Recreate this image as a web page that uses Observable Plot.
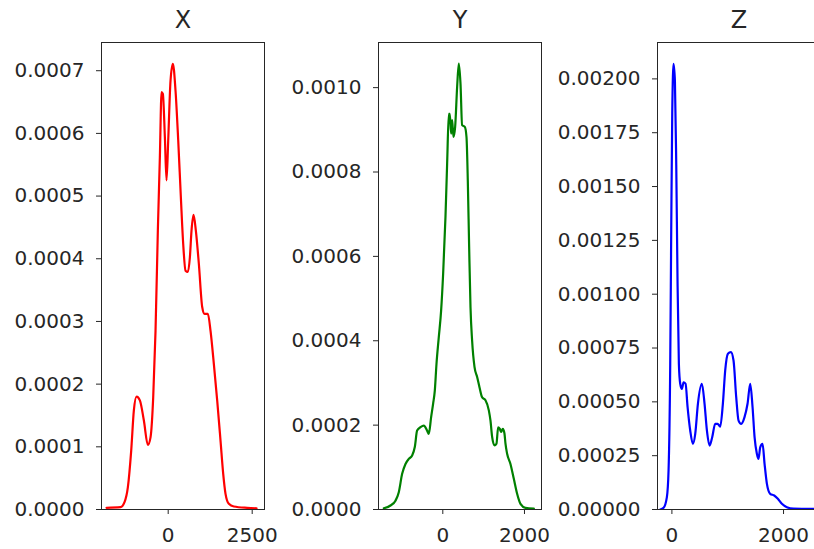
<!DOCTYPE html>
<html>
<head>
<meta charset="utf-8">
<script src="https://cdn.jsdelivr.net/npm/d3@7"></script>
<script src="https://cdn.jsdelivr.net/npm/@observablehq/plot@0.6"></script>
<style>
  html, body { margin: 0; padding: 0; background: #fff; }
  #chart { position: relative; width: 814px; height: 549px; overflow: hidden; background: #fff; }
  #chart > div, #chart > svg { position: absolute; top: 0; }
</style>
</head>
<body>
<div id="chart"></div>
<script>
// Panel titles
const titles = ["X", "Y", "Z"];
const colors = ["#ff0000", "#008000", "#0000ff"];

// KDE curve for X (value, density)
const xValues = [-1835, -1419, -1300, -1200, -1101, -1022, -942, -843, -724, -605, -526, -446, -377, -308, -248, -198, -159, -99, -50, 0, 69, 139, 218, 298, 377, 446, 516, 585, 645, 694, 754, 823, 912, 1012, 1081, 1180, 1260, 1359, 1458, 1557, 1637, 1706, 1805, 1954, 2351, 2629];
const xDensity = [0.0000027, 0.0000037, 0.0000117, 0.0000356, 0.000094, 0.000158, 0.00018, 0.000174, 0.000142, 0.000103, 0.000115, 0.000179, 0.000285, 0.000445, 0.000562, 0.000666, 0.000663, 0.000594, 0.000525, 0.000588, 0.000684, 0.000711, 0.000668, 0.000589, 0.000498, 0.000424, 0.000381, 0.000379, 0.000402, 0.000445, 0.00047, 0.000445, 0.000392, 0.000323, 0.000312, 0.000312, 0.000285, 0.000232, 0.000174, 0.00011, 0.0000569, 0.000025, 0.000009, 0.0000048, 0.0000027, 0.000002];

// KDE curve for Y
const yValues = [-1445, -1282, -1159, -1078, -996, -914, -833, -751, -686, -629, -547, -465, -384, -343, -286, -237, -196, -155, -98, -41, 8, 65, 106, 147, 171, 204, 229, 261, 302, 351, 392, 433, 473, 539, 580, 612, 645, 678, 718, 776, 841, 898, 963, 1045, 1127, 1167, 1208, 1265, 1314, 1355, 1396, 1429, 1470, 1510, 1535, 1575, 1657, 1739, 1820, 1902, 2024, 2229];
const yDensity = [0.000003, 0.0000095, 0.000021, 0.000041, 0.0000846, 0.000108, 0.00012, 0.000128, 0.000148, 0.000187, 0.000195, 0.000199, 0.000187, 0.000179, 0.000219, 0.000251, 0.000282, 0.000345, 0.000409, 0.000472, 0.000559, 0.000693, 0.00082, 0.000938, 0.000938, 0.000891, 0.000923, 0.000883, 0.000907, 0.001002, 0.001057, 0.00101, 0.000911, 0.000907, 0.000883, 0.00078, 0.000622, 0.00048, 0.0004, 0.000338, 0.000314, 0.00029, 0.000266, 0.000259, 0.000235, 0.000211, 0.000172, 0.000152, 0.000156, 0.000195, 0.000191, 0.000184, 0.000191, 0.000180, 0.000156, 0.000132, 0.000108, 0.0000727, 0.0000372, 0.0000134, 0.000004, 0.000002];

// KDE curve for Z
const zValues = [-209, -149, -90, -60, -30, -12, 6, 30, 54, 78, 101, 125, 149, 179, 209, 245, 281, 328, 376, 418, 466, 537, 585, 627, 675, 722, 776, 818, 866, 913, 955, 1003, 1057, 1104, 1152, 1194, 1242, 1301, 1355, 1403, 1445, 1481, 1522, 1552, 1582, 1624, 1660, 1702, 1761, 1833, 1898, 1970, 2060, 2179, 2537];
const zDensity = [0, 0.0000077, 0.0000573, 0.000181, 0.000676, 0.0013, 0.00184, 0.00207, 0.00199, 0.0016, 0.00106, 0.000676, 0.000584, 0.00056, 0.000591, 0.000584, 0.000475, 0.000367, 0.000305, 0.000351, 0.000491, 0.000584, 0.000491, 0.000367, 0.000297, 0.000336, 0.000398, 0.000398, 0.000385, 0.000491, 0.000646, 0.000723, 0.000731, 0.000692, 0.000522, 0.000413, 0.000398, 0.000429, 0.000491, 0.000584, 0.000475, 0.000336, 0.000259, 0.000235, 0.000289, 0.000305, 0.000212, 0.000119, 0.0000727, 0.000065, 0.0000495, 0.0000263, 0.0000108, 0.0000046, 0.000003];

// Tick values
const xTicksX = [0, 2500];
const xTicksY = [0, 2000];
const xTicksZ = [0, 2000];
const yTicksX = [0, 0.0001, 0.0002, 0.0003, 0.0004, 0.0005, 0.0006, 0.0007];
const yTicksY = [0, 0.0002, 0.0004, 0.0006, 0.0008, 0.0010];
const yTicksZ = [0, 0.00025, 0.0005, 0.00075, 0.001, 0.00125, 0.0015, 0.00175, 0.002];

const panels = [
  {title: titles[0], color: colors[0], xs: xValues, ys: xDensity, left: 0, marginLeft: 101, frameW: 163,
   xDomain: [-1985, 2866], yDomain: [0, 0.000745], xTicks: xTicksX, yTicks: yTicksX, fmt: ".4f"},
  {title: titles[1], color: colors[1], xs: yValues, ys: yDensity, left: 278, marginLeft: 100, frameW: 163,
   xDomain: [-1575, 2417], yDomain: [0, 0.001107], xTicks: xTicksY, yTicks: yTicksY, fmt: ".4f"},
  {title: titles[2], color: colors[2], xs: zValues, ys: zDensity, left: 555, marginLeft: 102, frameW: 163,
   xDomain: [-258, 2662], yDomain: [0, 0.002169], xTicks: xTicksZ, yTicks: yTicksZ, fmt: ".5f"}
];

const chart = document.getElementById("chart");
const ink = "#262626";

for (const p of panels) {
  const data = p.xs.map((v, i) => ({v, d: p.ys[i]}));
  const marginRight = 10;
  const svg = Plot.plot({
    width: p.marginLeft + p.frameW + marginRight,
    height: 549,
    marginLeft: p.marginLeft,
    marginRight,
    marginTop: 42,
    marginBottom: 40,
    style: {fontFamily: "DejaVu Sans", fontSize: "20px", color: ink, background: "transparent", overflow: "visible"},
    x: {domain: p.xDomain, ticks: p.xTicks, tickFormat: d3.format("d"), tickSize: 5, tickPadding: 13, label: null},
    y: {domain: p.yDomain, ticks: p.yTicks, tickFormat: d3.format(p.fmt), tickSize: 5, tickPadding: 12, label: null},
    marks: [
      Plot.line(data, {x: "v", y: "d", stroke: p.color, strokeWidth: 2.2, curve: "monotone-x", clip: true}),
      Plot.frame({stroke: ink, strokeWidth: 1}),
      Plot.text([p.title], {frameAnchor: "top", lineAnchor: "bottom", dy: -15, fontSize: 24, fill: ink})
    ]
  });
  svg.style.left = p.left + "px";
  svg.style.position = "absolute";
  chart.appendChild(svg);
}
</script>
</body>
</html>
